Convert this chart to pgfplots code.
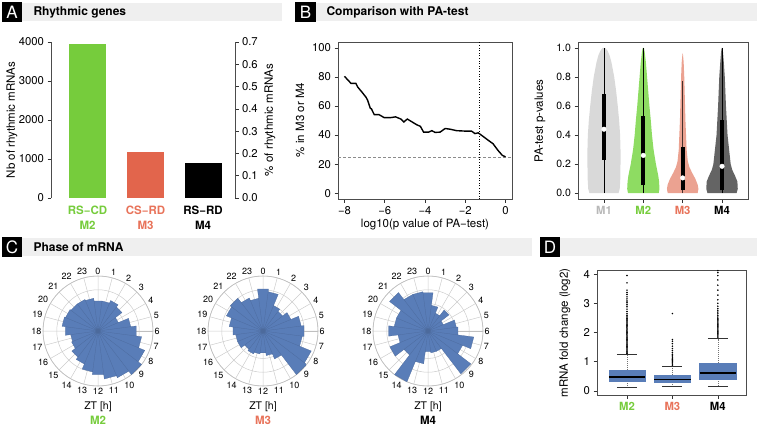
\documentclass[border=0pt]{standalone}
\usepackage{fontspec}
\setmainfont{TeX Gyre Heros}
\usepackage{pgfplots}
\pgfplotsset{compat=1.18}
\usepgfplotslibrary{polar,statistics}

\definecolor{hdr}{HTML}{EFEFEF}
\definecolor{mgreen}{HTML}{76CC3C}
\definecolor{mred}{HTML}{E2654C}
\definecolor{mredtxt}{HTML}{E8735A}
\definecolor{vgray}{HTML}{D9D9D9}
\definecolor{vgreen}{HTML}{8EDC62}
\definecolor{vsalmon}{HTML}{EBA291}
\definecolor{vdark}{HTML}{646464}
\definecolor{rblue}{HTML}{597DB8}
\definecolor{m1txt}{HTML}{B8B8B8}

\newcommand\tk{\fontsize{11.3}{12}\selectfont}
\newcommand\lb{\fontsize{11.5}{12}\selectfont}
\newcommand\hd{\fontsize{12}{13}\selectfont\bfseries}

\pgfplotsset{
  every axis/.append style={
    scale only axis,
    tick align=outside,
    major tick length=3.5pt,
    tick style={black!80, line width=0.5pt},
    axis line style={black!70, line width=0.6pt},
    tick label style={font=\tk},
    /pgf/number format/assume math mode=true,
    /pgf/number format/set thousands separator={},
  },
  rose/.style={
    anchor=center, width=110pt, height=110pt,
    ymin=0, ymax=1, ytick={0.25,0.5,0.75,1}, yticklabels={},
    xtick={0,15,...,345},
    xticklabels={6,5,4,3,2,1,0,23,22,21,20,19,18,17,16,15,14,13,12,11,10,9,8,7},
    grid=major, major grid style={black!20, line width=0.5pt},
    axis line style={black!25, line width=0.6pt},
    major tick length=0pt,
    xticklabel style={font=\fontsize{9}{9}\selectfont, inner sep=1.5pt},
  },
  wedge/.style={fill=rblue, draw=rblue!85!black, line width=0.25pt},
}

\begin{document}
\begin{tikzpicture}
\useasboundingbox (0,0) rectangle (757pt,426pt);

% panel headers
\fill[hdr] (22pt,405pt) rectangle (282pt,423pt);
\fill[black] (2pt,404pt) rectangle (22pt,424pt);
\node[white, font=\fontsize{17}{17}\selectfont] at (12pt,414pt) {A};
\node[anchor=west, font=\hd] at (30pt,414pt) {Rhythmic genes};

\fill[hdr] (316pt,405pt) rectangle (757pt,423pt);
\fill[black] (295pt,404pt) rectangle (316pt,424pt);
\node[white, font=\fontsize{17}{17}\selectfont] at (305.5pt,414pt) {B};
\node[anchor=west, font=\hd] at (323pt,414pt) {Comparison with PA-test};

\fill[hdr] (22pt,170pt) rectangle (532pt,188pt);
\fill[black] (2pt,169pt) rectangle (22pt,189pt);
\node[white, font=\fontsize{17}{17}\selectfont] at (12pt,179pt) {C};
\node[anchor=west, font=\hd] at (30pt,179pt) {Phase of mRNA};

\fill[hdr] (560pt,170pt) rectangle (757pt,188pt);
\fill[black] (540pt,169pt) rectangle (560pt,189pt);
\node[white, font=\fontsize{17}{17}\selectfont] at (550pt,179pt) {D};

% ---------------- A: rhythmic genes
\begin{axis}[at={(51pt,228pt)}, anchor=south west, width=184pt, height=156pt,
  xmin=0.37, xmax=3.55, ymin=0, ymax=4000,
  axis x line=none, axis y line*=left,
  ytick={0,1000,2000,3000,4000}]
\addplot[ybar, bar width=37pt, fill=mgreen, draw=none] coordinates {(1,3950)};
\addplot[ybar, bar width=37pt, fill=mred, draw=none] coordinates {(2,1170)};
\addplot[ybar, bar width=37pt, fill=black, draw=none] coordinates {(3,895)};
\end{axis}
\begin{axis}[at={(51pt,228pt)}, anchor=south west, width=184pt, height=156pt,
  xmin=0.37, xmax=3.55, ymin=0, ymax=0.7,
  axis x line=none, axis y line*=right,
  ytick={0,0.1,0.2,0.3,0.4,0.5,0.6,0.7},
  yticklabel style={/pgf/number format/.cd, fixed, precision=1, fixed zerofill}]
\addplot[draw=none] coordinates {(1,0)};
\end{axis}
\node[rotate=90, font=\lb] at (12pt,306pt) {Nb of rhythmic mRNAs};
\node[rotate=90, font=\lb] at (270pt,306pt) {\% of rhythmic mRNAs};
\node[font=\lb\bfseries, text=mgreen] at (87.5pt,216pt) {RS−CD};
\node[font=\lb\bfseries, text=mgreen] at (87.5pt,201pt) {M2};
\node[font=\lb\bfseries, text=mredtxt] at (145.5pt,216pt) {CS−RD};
\node[font=\lb\bfseries, text=mredtxt] at (145.5pt,201pt) {M3};
\node[font=\lb\bfseries] at (203pt,216pt) {RS−RD};
\node[font=\lb\bfseries] at (203pt,201pt) {M4};

% ---------------- B left: % in M3 or M4
\begin{axis}[at={(338pt,227pt)}, anchor=south west, width=174pt, height=157pt,
  xmin=-8.32, xmax=0.32, ymin=-4, ymax=104,
  xtick={-8,-6,-4,-2,0}, xticklabels={−8,−6,−4,−2,0},
  ytick={0,20,40,60,80,100}, xtick pos=bottom, ytick pos=left]
\addplot[black!45, densely dashed, line width=0.5pt] coordinates {(-8.32,25) (0.32,25)};
\addplot[black, dotted, line width=0.6pt] coordinates {(-1.3,-4) (-1.3,104)};
\addplot[black, line width=1.4pt] coordinates {
  (-8,80.4) (-7.84,78) (-7.67,75.5) (-7.43,75.5) (-7.34,73) (-7.1,69)
  (-6.93,66) (-6.85,64) (-6.72,58.5) (-6.66,58) (-6.52,54) (-6.28,54)
  (-6.03,52) (-5.7,52) (-5.46,52.5) (-5.2,51) (-5.05,49) (-4.88,51)
  (-4.64,49) (-4.4,47) (-4.23,46) (-4.07,42) (-3.82,42) (-3.66,43)
  (-3.5,41.8) (-3.25,42) (-3.0,44.5) (-2.75,44) (-2.43,43) (-2.0,42.7)
  (-1.69,42.7) (-1.52,41) (-1.36,41.5) (-1.11,39) (-0.87,36.5)
  (-0.62,34) (-0.38,29.5) (-0.16,26) (0,25)};
\end{axis}
\node[rotate=90, font=\lb] at (300pt,306pt) {\% in M3 or M4};
\node[font=\lb] at (425pt,201pt) {log10(p value of PA−test)};

% ---------------- B right: violins
\begin{axis}[at={(578pt,227pt)}, anchor=south west, width=170pt, height=157pt,
  xmin=0.34, xmax=4.66, ymin=-0.04, ymax=1.04,
  xtick={1,2,3,4},
  xticklabels={\textcolor{m1txt}{\bfseries M1},\textcolor{mgreen}{\bfseries M2},\textcolor{mredtxt}{\bfseries M3},\textbf{M4}},
  ytick={0,0.2,0.4,0.6,0.8,1},
  yticklabel style={font=\fontsize{10.5}{11}\selectfont, /pgf/number format/.cd, fixed, precision=1, fixed zerofill},
  xtick pos=bottom, ytick pos=left]
\addplot[fill=vgray, draw=none] coordinates {
  (0.63,0) (0.60,0.03) (0.585,0.1) (0.58,0.2) (0.58,0.3) (0.59,0.4) (0.615,0.5)
  (0.65,0.6) (0.69,0.7) (0.74,0.8) (0.81,0.9) (0.86,0.95) (0.91,0.98) (0.97,1.0)
  (1.03,1.0) (1.09,0.98) (1.14,0.95) (1.19,0.9) (1.26,0.8) (1.31,0.7) (1.35,0.6)
  (1.385,0.5) (1.41,0.4) (1.42,0.3) (1.42,0.2) (1.415,0.1) (1.40,0.03) (1.37,0)} -- cycle;
\addplot[fill=vgreen, draw=none] coordinates {
  (1.61,0) (1.59,0.03) (1.60,0.08) (1.62,0.12) (1.65,0.16) (1.68,0.2) (1.74,0.3)
  (1.78,0.4) (1.81,0.5) (1.845,0.6) (1.875,0.7) (1.905,0.8) (1.935,0.9) (1.965,0.97) (1.985,1.0)
  (2.015,1.0) (2.035,0.97) (2.065,0.9) (2.095,0.8) (2.125,0.7) (2.155,0.6) (2.19,0.5)
  (2.22,0.4) (2.26,0.3) (2.32,0.2) (2.35,0.16) (2.38,0.12) (2.40,0.08) (2.41,0.03) (2.39,0)} -- cycle;
\addplot[fill=vsalmon, draw=none] coordinates {
  (2.62,0) (2.60,0.03) (2.62,0.06) (2.68,0.1) (2.76,0.14) (2.83,0.18) (2.87,0.22)
  (2.90,0.3) (2.915,0.4) (2.93,0.5) (2.94,0.6) (2.95,0.7) (2.96,0.8) (2.975,0.9) (2.995,0.96)
  (3.005,0.96) (3.025,0.9) (3.04,0.8) (3.05,0.7) (3.06,0.6) (3.07,0.5) (3.085,0.4)
  (3.10,0.3) (3.13,0.22) (3.17,0.18) (3.24,0.14) (3.32,0.1) (3.38,0.06) (3.40,0.03) (3.38,0)} -- cycle;
\addplot[fill=vdark, draw=none] coordinates {
  (3.63,0) (3.60,0.03) (3.61,0.08) (3.67,0.12) (3.74,0.16) (3.78,0.2) (3.82,0.3)
  (3.86,0.4) (3.88,0.5) (3.90,0.6) (3.915,0.7) (3.93,0.8) (3.955,0.9) (3.975,0.97) (3.992,1.0)
  (4.008,1.0) (4.025,0.97) (4.045,0.9) (4.07,0.8) (4.085,0.7) (4.10,0.6) (4.12,0.5)
  (4.14,0.4) (4.18,0.3) (4.22,0.2) (4.26,0.16) (4.33,0.12) (4.39,0.08) (4.40,0.03) (4.37,0)} -- cycle;
% whiskers (thin) and inter-quartile bars (thick)
\addplot[black, line width=0.6pt] coordinates {(1,0) (1,1)};
\addplot[black, line width=0.6pt] coordinates {(2,0) (2,1)};
\addplot[black!70!vsalmon, line width=0.6pt] coordinates {(3,0) (3,0.77)};
\addplot[black, line width=0.6pt] coordinates {(4,0) (4,1)};
\addplot[black, line width=4pt] coordinates {(1,0.23) (1,0.68)};
\addplot[black, line width=4pt] coordinates {(2,0.055) (2,0.53)};
\addplot[black, line width=4pt] coordinates {(3,0.02) (3,0.32)};
\addplot[black, line width=4pt] coordinates {(4,0.02) (4,0.5)};
\addplot[only marks, mark=*, mark size=2.3pt, white, draw=white] coordinates {(1,0.44) (2,0.26) (3,0.105) (4,0.185)};
\end{axis}
\node[rotate=90, font=\lb] at (540pt,305pt) {PA-test p-values};

% ---------------- C: rose diagrams
\begin{polaraxis}[rose, at={(98pt,95pt)}]
\addplot[wedge] coordinates {
 (0,0) (97.5,0.55) (82.5,0.55) (0,0) (82.5,0.55) (67.5,0.55) (0,0) (67.5,0.6) (52.5,0.6)
 (0,0) (52.5,0.55) (37.5,0.55) (0,0) (37.5,0.4) (22.5,0.4) (0,0) (22.5,0.6) (7.5,0.6)
 (0,0) (7.5,0.7) (-7.5,0.7) (0,0) (-7.5,0.8) (-22.5,0.8) (0,0) (-22.5,0.92) (-37.5,0.92)
 (0,0) (-37.5,1) (-52.5,1) (0,0) (-52.5,0.92) (-67.5,0.92) (0,0) (-67.5,0.88) (-82.5,0.88)
 (0,0) (-82.5,0.8) (-97.5,0.8) (0,0) (-97.5,0.75) (-112.5,0.75) (0,0) (-112.5,0.65) (-127.5,0.65)
 (0,0) (-127.5,0.6) (-142.5,0.6) (0,0) (-142.5,0.52) (-157.5,0.52) (0,0) (-157.5,0.5) (-172.5,0.5)
 (0,0) (-172.5,0.6) (-187.5,0.6) (0,0) (-187.5,0.66) (-202.5,0.66) (0,0) (-202.5,0.64) (-217.5,0.64)
 (0,0) (-217.5,0.62) (-232.5,0.62) (0,0) (-232.5,0.62) (-247.5,0.62) (0,0) (-247.5,0.6) (-262.5,0.6)
 (0,0)};
\end{polaraxis}
\begin{polaraxis}[rose, at={(263pt,95pt)}]
\addplot[wedge] coordinates {
 (0,0) (97.5,0.77) (82.5,0.77) (0,0) (82.5,0.72) (67.5,0.72) (0,0) (67.5,0.5) (52.5,0.5)
 (0,0) (52.5,0.45) (37.5,0.45) (0,0) (37.5,0.55) (22.5,0.55) (0,0) (22.5,0.7) (7.5,0.7)
 (0,0) (7.5,0.75) (-7.5,0.75) (0,0) (-7.5,0.72) (-22.5,0.72) (0,0) (-22.5,0.95) (-37.5,0.95)
 (0,0) (-37.5,1) (-52.5,1) (0,0) (-52.5,0.55) (-67.5,0.55) (0,0) (-67.5,0.45) (-82.5,0.45)
 (0,0) (-82.5,0.4) (-97.5,0.4) (0,0) (-97.5,0.42) (-112.5,0.42) (0,0) (-112.5,0.45) (-127.5,0.45)
 (0,0) (-127.5,0.42) (-142.5,0.42) (0,0) (-142.5,0.5) (-157.5,0.5) (0,0) (-157.5,0.5) (-172.5,0.5)
 (0,0) (-172.5,0.55) (-187.5,0.55) (0,0) (-187.5,0.62) (-202.5,0.62) (0,0) (-202.5,0.72) (-217.5,0.72)
 (0,0) (-217.5,0.75) (-232.5,0.75) (0,0) (-232.5,0.65) (-247.5,0.65) (0,0) (-247.5,0.6) (-262.5,0.6)
 (0,0)};
\end{polaraxis}
\begin{polaraxis}[rose, at={(428pt,95pt)}]
\addplot[wedge] coordinates {
 (0,0) (97.5,0.7) (82.5,0.7) (0,0) (82.5,0.47) (67.5,0.47) (0,0) (67.5,0.35) (52.5,0.35)
 (0,0) (52.5,0.48) (37.5,0.48) (0,0) (37.5,0.3) (22.5,0.3) (0,0) (22.5,0.52) (7.5,0.52)
 (0,0) (7.5,0.55) (-7.5,0.55) (0,0) (-7.5,0.84) (-22.5,0.84) (0,0) (-22.5,0.68) (-37.5,0.68)
 (0,0) (-37.5,0.98) (-52.5,0.98) (0,0) (-52.5,0.4) (-67.5,0.4) (0,0) (-67.5,0.4) (-82.5,0.4)
 (0,0) (-82.5,0.38) (-97.5,0.38) (0,0) (-97.5,0.6) (-112.5,0.6) (0,0) (-112.5,1) (-127.5,1)
 (0,0) (-127.5,0.55) (-142.5,0.55) (0,0) (-142.5,0.75) (-157.5,0.75) (0,0) (-157.5,0.55) (-172.5,0.55)
 (0,0) (-172.5,0.72) (-187.5,0.72) (0,0) (-187.5,0.62) (-202.5,0.62) (0,0) (-202.5,0.62) (-217.5,0.62)
 (0,0) (-217.5,0.88) (-232.5,0.88) (0,0) (-232.5,0.72) (-247.5,0.72) (0,0) (-247.5,0.72) (-262.5,0.72)
 (0,0)};
\end{polaraxis}
\node[font=\fontsize{10.5}{11}\selectfont] at (98pt,19pt) {ZT [h]};
\node[font=\lb\bfseries, text=mgreen] at (98pt,6pt) {M2};
\node[font=\fontsize{10.5}{11}\selectfont] at (263pt,19pt) {ZT [h]};
\node[font=\lb\bfseries, text=mredtxt] at (263pt,6pt) {M3};
\node[font=\fontsize{10.5}{11}\selectfont] at (428pt,19pt) {ZT [h]};
\node[font=\lb\bfseries] at (428pt,6pt) {M4};

% ---------------- D: fold change boxplots
\begin{axis}[at={(597pt,31pt)}, anchor=south west, width=149pt, height=125pt,
  xmin=0.34, xmax=3.62, ymin=-0.14, ymax=4.14,
  xtick={1,2,3},
  xticklabels={\textcolor{mgreen}{\bfseries M2},\textcolor{mredtxt}{\bfseries M3},\textbf{M4}},
  ytick={0,1,2,3,4}, xtick pos=bottom, ytick pos=left,
  boxplot/draw direction=y,
  boxplot/every box/.style={fill=rblue, draw=rblue},
  boxplot/every median/.style={black, line width=1.3pt},
  boxplot/every whisker/.style={black!55, dash pattern=on 1pt off 1pt, line width=0.4pt},
  boxplot/box extend=0.8, boxplot/whisker extend=0]
\addplot[boxplot prepared={draw position=1, lower whisker=0.14, lower quartile=0.34,
  median=0.48, upper quartile=0.71, upper whisker=1.24}] coordinates {};
\addplot[boxplot prepared={draw position=2, lower whisker=0.17, lower quartile=0.31,
  median=0.40, upper quartile=0.53, upper whisker=0.84}] coordinates {};
\addplot[boxplot prepared={draw position=3, lower whisker=0.16, lower quartile=0.40,
  median=0.615, upper quartile=0.96, upper whisker=1.79}] coordinates {};
% whisker caps
\addplot[black!80, line width=0.5pt] coordinates {(0.78,1.24) (1.22,1.24)};
\addplot[black!80, line width=0.5pt] coordinates {(0.78,0.14) (1.22,0.14)};
\addplot[black!80, line width=0.5pt] coordinates {(1.78,0.84) (2.22,0.84)};
\addplot[black!80, line width=0.5pt] coordinates {(1.78,0.17) (2.22,0.17)};
\addplot[black!80, line width=0.5pt] coordinates {(2.78,1.79) (3.22,1.79)};
\addplot[black!80, line width=0.5pt] coordinates {(2.78,0.16) (3.22,0.16)};
% outliers
\addplot[only marks, mark=*, mark size=0.55pt, black] coordinates {
 (1,1.28) (1,1.32) (1,1.36) (1,1.40) (1,1.44) (1,1.48) (1,1.52) (1,1.56) (1,1.60)
 (1,1.64) (1,1.68) (1,1.72) (1,1.76) (1,1.80) (1,1.84) (1,1.88) (1,1.92) (1,1.96)
 (1,2.00) (1,2.04) (1,2.08) (1,2.12) (1,2.16) (1,2.20) (1,2.24) (1,2.28) (1,2.32)
 (1,2.36) (1,2.40) (1,2.44) (1,2.48) (1,2.53) (1,2.58) (1,2.64) (1,2.72) (1,2.80)
 (1,2.88) (1,2.95) (1,3.02) (1,3.08) (1,3.15) (1,3.22) (1,3.30) (1,3.37) (1,3.45)
 (1,3.70) (1,3.95)
 (2,0.88) (2,0.92) (2,0.96) (2,1.00) (2,1.04) (2,1.08) (2,1.12) (2,1.16) (2,1.20)
 (2,1.25) (2,1.31) (2,1.38) (2,1.45) (2,1.53) (2,1.62) (2,1.70) (2,1.76) (2,2.65)
 (3,1.84) (3,1.88) (3,1.92) (3,1.96) (3,2.00) (3,2.04) (3,2.08) (3,2.12) (3,2.16)
 (3,2.20) (3,2.24) (3,2.28) (3,2.32) (3,2.36) (3,2.40) (3,2.44) (3,2.48) (3,2.53)
 (3,2.58) (3,2.64) (3,2.70) (3,2.76) (3,2.82) (3,2.90) (3,3.00) (3,3.12) (3,3.28)
 (3,3.45) (3,3.62) (3,3.80) (3,3.95) (3,4.05) (3,4.12)};
\end{axis}
\node[rotate=90, font=\lb] at (565pt,93pt) {mRNA fold change (log2)};
\end{tikzpicture}
\end{document}
